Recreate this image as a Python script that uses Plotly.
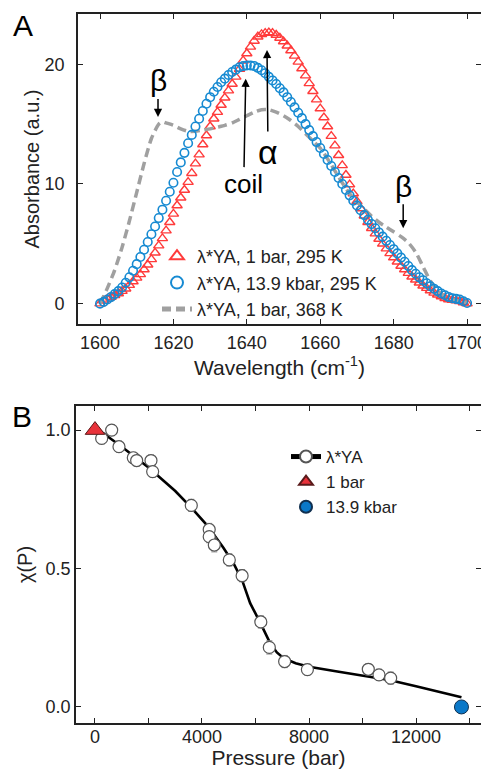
import plotly.graph_objects as go

# ---------------- Panel A data ----------------
wavenumber = list(range(1600, 1701))

abs_1bar_295K = [
    0.0, 0.25, 0.4, 0.55, 0.7, 0.85, 1.05, 1.25, 1.55, 1.85,
    2.15, 2.45, 2.85, 3.25, 3.7, 4.25, 4.85, 5.45, 6.1, 6.8,
    7.5, 8.2, 8.85, 9.5, 10.15, 10.9, 11.7, 12.45, 13.3, 14.05,
    14.8, 15.45, 16.0, 16.6, 17.2, 17.8, 18.35, 18.95, 19.6, 20.3,
    20.9, 21.45, 21.95, 22.3, 22.5, 22.6, 22.65, 22.6, 22.45, 22.2,
    21.9, 21.55, 21.15, 20.7, 20.2, 19.65, 19.05, 18.4, 17.75, 17.05,
    16.3, 15.55, 14.8, 14.0, 13.2, 12.4, 11.55, 10.75, 9.95, 9.2,
    8.55, 7.95, 7.35, 6.8, 6.3, 5.85, 5.4, 5.0, 4.6, 4.2,
    3.85, 3.5, 3.15, 2.85, 2.55, 2.25, 2.0, 1.75, 1.5, 1.3,
    1.1, 0.9, 0.75, 0.6, 0.45, 0.35, 0.3, 0.25, 0.2, 0.1,
    0.0,
]

abs_139kbar_295K = [
    0.0, 0.15, 0.35, 0.55, 0.8, 1.05, 1.35, 1.75, 2.2, 2.75,
    3.3, 3.9, 4.5, 5.15, 5.8, 6.45, 7.15, 7.85, 8.6, 9.35,
    10.1, 11.0, 11.8, 12.6, 13.4, 14.1, 14.8, 15.45, 16.1, 16.7,
    17.25, 17.7, 18.1, 18.5, 18.8, 19.1, 19.35, 19.55, 19.75, 19.85,
    19.9, 19.9, 19.85, 19.7, 19.5, 19.25, 18.95, 18.65, 18.35, 18.0,
    17.65, 17.25, 16.85, 16.4, 15.95, 15.5, 15.0, 14.5, 14.0, 13.5,
    13.0, 12.5, 12.0, 11.5, 11.0, 10.5, 10.0, 9.5, 9.05, 8.6,
    8.2, 7.8, 7.4, 7.0, 6.65, 6.3, 5.95, 5.6, 5.25, 4.9,
    4.55, 4.2, 3.85, 3.5, 3.15, 2.8, 2.5, 2.2, 1.95, 1.7,
    1.45, 1.25, 1.05, 0.85, 0.7, 0.55, 0.45, 0.4, 0.35, 0.2,
    0.05,
]

wavenumber_368K = [
    1600, 1602, 1604, 1606, 1608, 1610, 1612, 1614, 1616, 1617,
    1618, 1620, 1622, 1624, 1626, 1628, 1630, 1632, 1634, 1636,
    1638, 1640, 1642, 1644, 1646, 1648, 1650, 1652, 1654, 1656,
    1658, 1660, 1662, 1664, 1666, 1668, 1670, 1672, 1674, 1676,
    1678, 1680, 1682, 1684, 1686, 1688, 1690, 1692, 1694, 1696,
    1698, 1700,
]
abs_1bar_368K = [
    0.0, 1.3, 2.8, 4.7, 6.9, 9.3, 11.7, 13.8, 15.0, 15.2,
    15.1, 14.9, 14.6, 14.4, 14.4, 14.5, 14.6, 14.75, 14.9, 15.1,
    15.4, 15.7, 16.0, 16.2, 16.2, 16.0, 15.7, 15.3, 14.8, 14.2,
    13.6, 13.0, 12.1, 11.1, 10.1, 9.2, 8.5, 7.9, 7.3, 6.8,
    6.4, 6.0, 5.6, 5.1, 4.3, 3.1, 1.9, 1.1, 0.6, 0.35,
    0.2, 0.1,
]

# ---------------- Panel B data ----------------
pressure = [250, 624, 897, 1432, 1558, 2093, 2156, 3600, 4270, 4270,
            4460, 5021, 5500, 6200, 6517, 7090, 7940, 10217, 10617, 11053]
chi = [0.97, 1.0, 0.94, 0.90, 0.89, 0.89, 0.85, 0.728, 0.641, 0.615,
       0.585, 0.531, 0.474, 0.307, 0.215, 0.164, 0.135, 0.136, 0.116, 0.104]
chi_err = [0.02, 0.02, 0.02, 0.02, 0.02, 0.02, 0.02, 0.022, 0.022, 0.022,
           0.025, 0.022, 0.022, 0.022, 0.024, 0.022, 0.02, 0.02, 0.02, 0.022]

pressure_fit = [0, 1000, 2000, 3000, 3600, 4200, 4800, 5200, 5500, 5800,
                6200, 6550, 6800, 7050, 7500, 8000, 9000, 10000, 11000, 12000,
                13000, 13700]
chi_fit = [1.01, 0.94, 0.865, 0.78, 0.72, 0.655, 0.575, 0.515, 0.458, 0.375,
           0.30, 0.23, 0.197, 0.176, 0.158, 0.145, 0.129, 0.113, 0.097, 0.075,
           0.052, 0.035]

p_1bar = [0]
chi_1bar = [1.0]
p_139kbar = [13700]
chi_139kbar = [0.0]

FONT = "Liberation Sans, Arial, Helvetica, sans-serif"
RED = "#ff3b3b"
BLUE = "#168ad2"
GRAY = "#a0a0a0"
AX = "#222222"

# The page body has an 8 px default margin; the figure is sized so that
# the plotting areas land where they are in the reference image.
BODY = 8
FIG_W, FIG_H = 489 - BODY, 769 - BODY
PLOT_L, PLOT_R, PLOT_T, PLOT_B = 76, 481, 14, 723   # page pixels

fig = go.Figure()

# Panel A traces
fig.add_trace(go.Scatter(
    x=wavenumber, y=abs_1bar_295K, mode="markers", name="λ*YA, 1 bar, 295 K",
    marker=dict(symbol="triangle-up-open", size=9, color=RED, line=dict(width=1.4, color=RED)),
    xaxis="x", yaxis="y", legend="legend", legendrank=1))
fig.add_trace(go.Scatter(
    x=wavenumber_368K, y=abs_1bar_368K, mode="lines", name="λ*YA, 1 bar, 368 K",
    line=dict(color=GRAY, width=3.5, dash="9px,5px", shape="spline", smoothing=0.6),
    xaxis="x", yaxis="y", legend="legend", legendrank=3))
fig.add_trace(go.Scatter(
    x=wavenumber, y=abs_139kbar_295K, mode="markers", name="λ*YA, 13.9 kbar, 295 K",
    marker=dict(symbol="circle-open", size=8.5, color=BLUE, line=dict(width=1.6, color=BLUE)),
    xaxis="x", yaxis="y", legend="legend", legendrank=2))

# Panel B traces
fig.add_trace(go.Scatter(
    x=pressure_fit, y=chi_fit, mode="lines", showlegend=False,
    line=dict(color="black", width=2.6), xaxis="x2", yaxis="y2"))
fig.add_trace(go.Scatter(
    x=pressure, y=chi, mode="markers", showlegend=False,
    error_y=dict(type="data", array=chi_err, color="#8a8a8a", thickness=1, width=3),
    marker=dict(symbol="circle", size=12, color="white", line=dict(width=1.2, color="#555555")),
    xaxis="x2", yaxis="y2"))
fig.add_trace(go.Scatter(
    x=[None], y=[None], mode="lines+markers", name="λ*YA",
    line=dict(color="black", width=2),
    marker=dict(symbol="circle", size=10, color="white", line=dict(width=1.2, color="#555555")),
    xaxis="x2", yaxis="y2", legend="legend2", legendrank=1))
fig.add_trace(go.Scatter(
    x=p_1bar, y=chi_1bar, mode="markers", name="1 bar",
    marker=dict(symbol="triangle-up", size=17, color="#e8323a", line=dict(width=1, color="#5a1a1a")),
    xaxis="x2", yaxis="y2", legend="legend2", legendrank=2))
fig.add_trace(go.Scatter(
    x=p_139kbar, y=chi_139kbar, mode="markers", name="13.9 kbar",
    marker=dict(symbol="circle", size=14, color="#0a78c8", line=dict(width=1, color="#103050")),
    xaxis="x2", yaxis="y2", legend="legend2", legendrank=3))

axis_common = dict(showline=True, linecolor=AX, linewidth=1.6, mirror="ticks",
                   ticks="inside", ticklen=5, tickwidth=1.4, tickcolor=AX,
                   showgrid=False, zeroline=False, automargin=False,
                   tickfont=dict(size=18, color=AX, family=FONT))

W_PLOT = PLOT_R - PLOT_L
H_PLOT = PLOT_B - PLOT_T

def px2paper_x(px):
    return (px - PLOT_L) / float(W_PLOT)

def px2paper_y(py):
    return (PLOT_B - py) / float(H_PLOT)

fig.update_layout(
    width=FIG_W, height=FIG_H,
    margin=dict(l=PLOT_L - BODY, r=489 - PLOT_R, t=PLOT_T - BODY, b=769 - PLOT_B, autoexpand=False),
    plot_bgcolor="white", paper_bgcolor="white",
    font=dict(family=FONT, size=18, color=AX),
    xaxis=dict(domain=[px2paper_x(78), 1], range=[1594, 1703.8], tickvals=[1600, 1620, 1640, 1660, 1680, 1700],
               anchor="y", ticklabelstandoff=2,
               title=dict(text="Wavelength (cm<sup>-1</sup>)", font=dict(size=21), standoff=0),
               **axis_common),
    yaxis=dict(domain=[px2paper_y(324), 1], range=[-1.7, 24.2], tickvals=[0, 10, 20],
               anchor="x", ticklabelstandoff=8,
               title=dict(text="Absorbance (a.u.)", font=dict(size=20), standoff=0),
               **axis_common),
    xaxis2=dict(domain=[0, 1], range=[-710, 14430], tickvals=[0, 4000, 8000, 12000],
                tickformat="d",
                minor=dict(dtick=2000, tick0=0, ticks="inside", ticklen=5, tickwidth=1.4, tickcolor=AX),
                anchor="y2", ticklabelstandoff=-3,
                title=dict(text="Pressure (bar)", font=dict(size=21), standoff=0),
                **axis_common),
    yaxis2=dict(domain=[0, px2paper_y(406)], range=[-0.058, 1.087], tickvals=[0, 0.5, 1.0],
                tickformat=".1f", anchor="x2", ticklabelstandoff=0,
                title=dict(text="χ(P)", font=dict(size=20), standoff=8),
                **axis_common),
    legend=dict(x=px2paper_x(157), y=px2paper_y(283), xanchor="left", yanchor="middle",
                font=dict(size=18, color=AX), bgcolor="rgba(0,0,0,0)", tracegroupgap=0,
                itemsizing="constant"),
    legend2=dict(x=px2paper_x(286), y=px2paper_y(482), xanchor="left", yanchor="middle",
                 font=dict(size=17, color=AX), bgcolor="rgba(0,0,0,0)", tracegroupgap=0,
                 itemsizing="constant"),
    showlegend=True,
)

annotations = [
    # panel letters
    dict(text="A", x=px2paper_x(23), y=px2paper_y(26), xref="paper", yref="paper",
         showarrow=False, font=dict(size=30, color="black"), xanchor="center", yanchor="middle"),
    dict(text="B", x=px2paper_x(22), y=px2paper_y(416), xref="paper", yref="paper",
         showarrow=False, font=dict(size=30, color="black"), xanchor="center", yanchor="middle"),
    # labelled arrows (arrow tip at the data point, label offset in pixels)
    dict(text="β", x=1615.8, y=15.6, xref="x", yref="y", ax=0, ay=-36, showarrow=True,
         arrowhead=2, arrowsize=1.1, arrowwidth=1.5, arrowcolor="black", standoff=0,
         font=dict(size=30, color="black")),
    dict(text="β", x=1682.6, y=6.3, xref="x", yref="y", ax=0, ay=-42, showarrow=True,
         arrowhead=2, arrowsize=1.1, arrowwidth=1.5, arrowcolor="black",
         font=dict(size=30, color="black")),
    dict(text="coil", x=1639.7, y=18.8, xref="x", yref="y", ax=-2, ay=105, showarrow=True,
         arrowhead=2, arrowsize=1.1, arrowwidth=1.5, arrowcolor="black",
         font=dict(size=26, color="black")),
    dict(text="α", x=1645.5, y=21.2, xref="x", yref="y", ax=1, ay=102, showarrow=True,
         arrowhead=2, arrowsize=1.1, arrowwidth=1.5, arrowcolor="black",
         font=dict(size=34, color="black")),
]
fig.update_layout(annotations=annotations)

fig.write_html("out.html")
